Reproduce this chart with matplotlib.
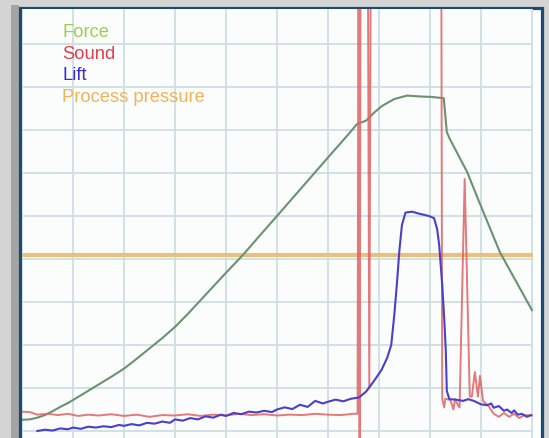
import matplotlib
matplotlib.use("Agg")
import matplotlib.pyplot as plt
from matplotlib.patches import Rectangle

# ---- data (arbitrary units) ----
force_x = [0.00, 0.15, 0.30, 0.45, 0.60, 0.75, 0.90, 1.00, 1.25, 1.50, 1.75, 2.00,
           2.25, 2.50, 2.75, 3.00, 3.25, 3.50, 3.75, 4.00, 4.33, 4.60, 5.00, 5.50,
           6.00, 6.40, 6.57, 6.75, 6.90, 7.06, 7.30, 7.55, 7.80, 8.02, 8.27, 8.33,
           8.39, 8.73, 8.94, 9.37, 10.00]
force_y = [0.26, 0.27, 0.31, 0.37, 0.46, 0.56, 0.65, 0.72, 0.90, 1.08, 1.26, 1.45,
           1.68, 1.92, 2.16, 2.42, 2.72, 3.04, 3.36, 3.68, 4.09, 4.46, 5.00, 5.68,
           6.36, 6.90, 7.14, 7.22, 7.40, 7.56, 7.72, 7.80, 7.78, 7.77, 7.74, 6.95,
           6.79, 6.02, 5.40, 4.16, 2.81]

lift_x = [0.30, 0.45, 0.60, 0.75, 0.90, 1.00, 1.15, 1.30, 1.45, 1.60, 1.75, 1.90,
          2.00, 2.15, 2.30, 2.45, 2.60, 2.75, 2.90, 3.00, 3.15, 3.30, 3.45, 3.60,
          3.75, 3.90, 4.00, 4.15, 4.30, 4.45, 4.60, 4.75, 4.90, 5.00, 5.15, 5.30,
          5.45, 5.60, 5.75, 5.90, 6.00, 6.15, 6.30, 6.45, 6.61, 6.75, 6.90, 7.05,
          7.16, 7.24, 7.30, 7.35, 7.40, 7.45, 7.52, 7.65, 7.80, 7.98, 8.08, 8.14,
          8.18, 8.24, 8.28, 8.31, 8.33, 8.38, 8.50, 8.65, 8.75, 8.86, 9.00, 9.12,
          9.20, 9.25, 9.35, 9.45, 9.51, 9.60, 9.65, 9.72, 9.80, 9.90, 9.98]
lift_y = [0.00, 0.03, 0.01, 0.06, 0.04, 0.08, 0.05, 0.10, 0.08, 0.11, 0.09, 0.14,
          0.12, 0.16, 0.13, 0.19, 0.17, 0.22, 0.19, 0.27, 0.24, 0.30, 0.27, 0.34,
          0.31, 0.38, 0.35, 0.42, 0.39, 0.45, 0.43, 0.47, 0.44, 0.50, 0.55, 0.51,
          0.61, 0.56, 0.70, 0.64, 0.68, 0.73, 0.69, 0.75, 0.78, 0.92, 1.16, 1.42,
          1.70, 2.00, 2.70, 3.40, 4.20, 4.79, 5.08, 5.10, 5.05, 5.00, 4.95, 4.70,
          4.33, 3.40, 2.60, 1.86, 0.93, 0.74, 0.73, 0.70, 0.74, 0.70, 0.62, 0.60,
          0.64, 0.54, 0.58, 0.47, 0.50, 0.42, 0.48, 0.38, 0.40, 0.33, 0.37]

sound_x = [0.00, 0.15, 0.30, 0.50, 0.70, 0.90, 1.10, 1.30, 1.50, 1.75, 2.00, 2.25,
           2.50, 2.75, 3.00, 3.25, 3.50, 3.75, 4.00, 4.25, 4.50, 4.75, 5.00, 5.25,
           5.50, 5.75, 6.00, 6.25, 6.50, 6.58, 6.60, 6.62, 6.64, 6.78, 6.81, 6.84,
           8.22, 8.24,
           8.28, 8.30, 8.40, 8.46, 8.49, 8.55, 8.58, 8.68, 8.78, 8.82, 8.88, 8.94,
           8.98, 9.04, 9.15, 9.25, 9.35, 9.45, 9.55, 9.65, 9.75, 9.85, 10.00]
sound_y = [0.45, 0.44, 0.38, 0.40, 0.37, 0.40, 0.35, 0.38, 0.36, 0.39, 0.35, 0.38,
           0.33, 0.37, 0.36, 0.39, 0.35, 0.38, 0.36, 0.40, 0.37, 0.39, 0.36, 0.38,
           0.37, 0.40, 0.38, 0.37, 0.40, 0.40, 12.0, -1.0, 12.0, 12.0, 1.0, 12.0,
           12.0, 0.74,
           0.55, 0.75, 0.72, 0.50, 0.74, 0.60, 0.55, 5.86, 0.80, 0.80, 1.37, 0.80,
           1.28, 0.70, 0.58, 0.40, 0.33, 0.42, 0.33, 0.40, 0.30, 0.37, 0.36]

process_pressure = 4.09

legend_labels = ["Force", "Sound", "Lift", "Process pressure"]
legend_colors = ["#a2cc50", "#e0404c", "#3a2ad0", "#f0b458"]

# ---- figure ----
W, H = 549, 439
fig = plt.figure(figsize=(W / 100, H / 100), dpi=100, facecolor="#d4d4d4")

def fx(px):
    return px / W

def fy(py):
    return 1 - py / H

# shadow on the left and frame
fig.patches.append(Rectangle((fx(11), 0), fx(8), fy(6), transform=fig.transFigure,
                             facecolor="#a4a4a4", edgecolor="none", zorder=0))
fig.patches.append(Rectangle((fx(19.5), fy(445)), fx(542 - 19.5), fy(8.5) - fy(445),
                             transform=fig.transFigure, facecolor="#fbfdfd",
                             edgecolor="#1b4a72", linewidth=2.3, zorder=1))

ax = fig.add_axes([fx(22), 0, fx(533 - 22), 1 - 10 / H])
ax.set_facecolor("#fbfdfd")
ax.set_zorder(2)
ax.set_xlim(0, 10.02)
ax.set_ylim(-0.163, 9.814)
ax.set_xticks(range(0, 11))
ax.set_yticks(range(0, 10))
ax.grid(True, color="#cddfe3", linewidth=1.3)
ax.set_axisbelow(True)
ax.tick_params(length=0, labelbottom=False, labelleft=False)
for s in ax.spines.values():
    s.set_visible(False)

ax.axhline(process_pressure, color="#e8c27c", linewidth=3, zorder=3)
ax.plot(force_x, force_y, color="#6b9270", linewidth=1.5, zorder=4)
ax.plot(sound_x, sound_y, color="#e06262", linewidth=1.4, alpha=0.85, zorder=5)
ax.plot(lift_x, lift_y, color="#4a40c8", linewidth=1.5, zorder=6)

for i, (lab, col) in enumerate(zip(legend_labels, legend_colors)):
    fig.text(fx(62), fy(37 + 21.6 * i), lab, color=col, fontsize=13.2,
             family=["Liberation Sans", "DejaVu Sans"], va="baseline", ha="left",
             zorder=10)

fig.savefig("out.png", dpi=100, facecolor=fig.get_facecolor())
